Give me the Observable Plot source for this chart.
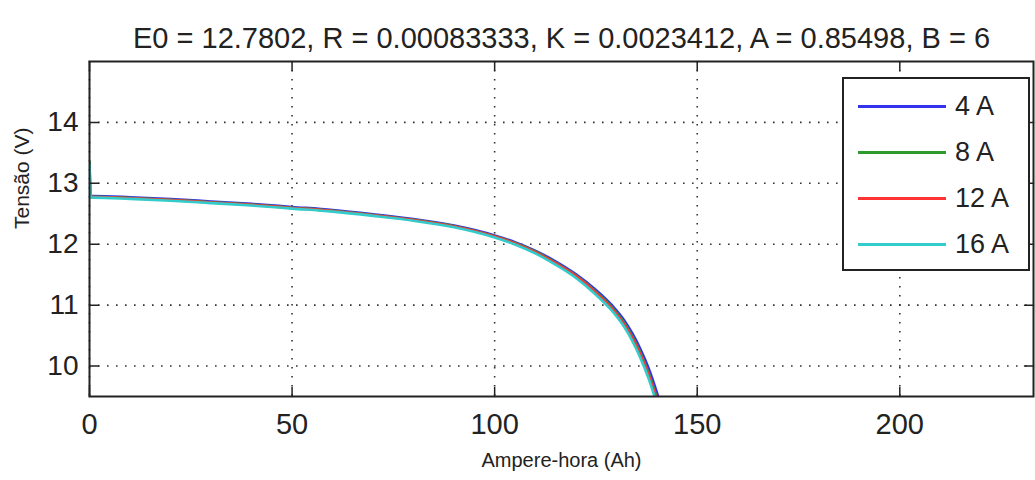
<!DOCTYPE html>
<html>
<head>
<meta charset="utf-8">
<script src="https://cdn.jsdelivr.net/npm/d3@7"></script>
<script src="https://cdn.jsdelivr.net/npm/@observablehq/plot@0.6"></script>
<style>
  html, body { margin: 0; padding: 0; background: #fff; }
  #wrap { position: relative; width: 1035px; height: 480px; font-family: "Liberation Sans", Arial, Helvetica, sans-serif; }
  #legend { position: absolute; left: 842px; top: 77px; width: 184px; height: 190px; border: 2px solid #222; background: #fff; }
  .row { position: absolute; left: 0; height: 30px; display: flex; align-items: center; }
  .sw { width: 88px; height: 3px; margin-left: 14px; }
  .lab { margin-left: 9px; font-size: 27px; color: #222; }
</style>
</head>
<body>
<div id="wrap"><div id="chart"></div><div id="legend"></div></div>
<script>
const titleText = "E0 = 12.7802, R = 0.00083333, K = 0.0023412, A = 0.85498, B = 6";
const xLabel = "Ampere-hora (Ah)";
const yLabel = "Tensão (V)";
const xTicks = [0, 50, 100, 150, 200];
const yTicks = [10, 11, 12, 13, 14];
const seriesNames = ["4 A", "8 A", "12 A", "16 A"];
const seriesColors = ["#3333ee", "#2f9a2f", "#ff3333", "#33cccc"];

const ah   = [0, 0.3, 1, 10, 20, 30, 40, 50, 60, 70, 80, 90, 100, 105, 110, 115, 120, 125, 129, 132, 134, 136, 138, 140, 141];
const v4A  = [13.35, 12.79, 12.79, 12.772, 12.742, 12.702, 12.662, 12.612, 12.562, 12.492, 12.412, 12.307, 12.145, 12.035, 11.895, 11.72, 11.51, 11.25, 10.995, 10.75, 10.535, 10.275, 9.965, 9.575, 9.355];
const v8A  = [13.35, 12.78, 12.78, 12.76, 12.73, 12.69, 12.65, 12.60, 12.55, 12.48, 12.40, 12.295, 12.13, 12.02, 11.88, 11.70, 11.49, 11.22, 10.96, 10.705, 10.485, 10.215, 9.885, 9.485, 9.265];
const v12A = [13.0, 12.776, 12.776, 12.756, 12.726, 12.686, 12.646, 12.596, 12.546, 12.476, 12.396, 12.29, 12.125, 12.013, 11.87, 11.69, 11.48, 11.205, 10.94, 10.68, 10.46, 10.185, 9.855, 9.45, 9.23];
const v16A = [13.3, 12.765, 12.765, 12.745, 12.715, 12.675, 12.635, 12.585, 12.535, 12.465, 12.385, 12.278, 12.11, 11.995, 11.85, 11.665, 11.45, 11.17, 10.905, 10.64, 10.41, 10.13, 9.795, 9.385, 9.165];

const allSeries = [v4A, v8A, v12A, v16A];
const rows = [];
allSeries.forEach((vals, i) => ah.forEach((x, j) => rows.push({series: seriesNames[i], x, y: vals[j]})));

const tickShape = {draw(ctx, l) { ctx.moveTo(0, 0); ctx.lineTo(0, -l); }};
const tickOpts = {length: 9, anchor: "start", shape: tickShape, stroke: "#222", strokeWidth: 1.5};
const font = "Liberation Sans, Arial, Helvetica, sans-serif";

const chart = Plot.plot({
  width: 1035, height: 480,
  marginLeft: 89, marginTop: 61, marginRight: 2, marginBottom: 84,
  style: {fontFamily: font, background: "#fff", color: "#222"},
  x: {domain: [0, 233]},
  y: {domain: [9.5, 15]},
  color: {domain: seriesNames, range: seriesColors},
  marks: [
    Plot.gridX(xTicks, {stroke: "#333", strokeOpacity: 1, strokeWidth: 1.6, strokeDasharray: "1.6,7.4"}),
    Plot.gridY(yTicks, {stroke: "#333", strokeOpacity: 1, strokeWidth: 1.6, strokeDasharray: "1.6,7.4"}),
    Plot.line(rows, {x: "x", y: "y", z: "series", stroke: "series", strokeWidth: 2.6, curve: "monotone-x", clip: true}),
    Plot.frame({stroke: "#222", strokeWidth: 2}),
    Plot.vector(xTicks, {x: d => d, frameAnchor: "bottom", rotate: 0, ...tickOpts}),
    Plot.vector(xTicks, {x: d => d, frameAnchor: "top", rotate: 180, ...tickOpts}),
    Plot.vector(yTicks, {y: d => d, frameAnchor: "left", rotate: 90, ...tickOpts}),
    Plot.vector(yTicks, {y: d => d, frameAnchor: "right", rotate: -90, ...tickOpts}),
    Plot.axisX(xTicks, {tickSize: 0, tickPadding: 17, fontSize: 29, label: null, fill: "#222", tickFormat: d3.format("d")}),
    Plot.axisY(yTicks, {tickSize: 0, tickPadding: 11, fontSize: 28, label: null, fill: "#222", tickFormat: d3.format("d")}),
    Plot.text([titleText], {text: d => d, frameAnchor: "top", dy: -34, fontSize: 29, fill: "#222"}),
    Plot.text([xLabel], {text: d => d, frameAnchor: "bottom", dy: 70, fontSize: 20, fill: "#222"}),
    Plot.text([yLabel], {text: d => d, frameAnchor: "left", dx: -67, rotate: -90, fontSize: 21, fill: "#222"})
  ]
});
document.getElementById("chart").appendChild(chart);

const legend = document.getElementById("legend");
seriesNames.forEach((name, i) => {
  const row = document.createElement("div");
  row.className = "row";
  row.style.top = (12 + i * 46.3) + "px";
  row.innerHTML = `<div class="sw" style="background:${seriesColors[i]}"></div><div class="lab">${name}</div>`;
  legend.appendChild(row);
});
</script>
</body>
</html>
